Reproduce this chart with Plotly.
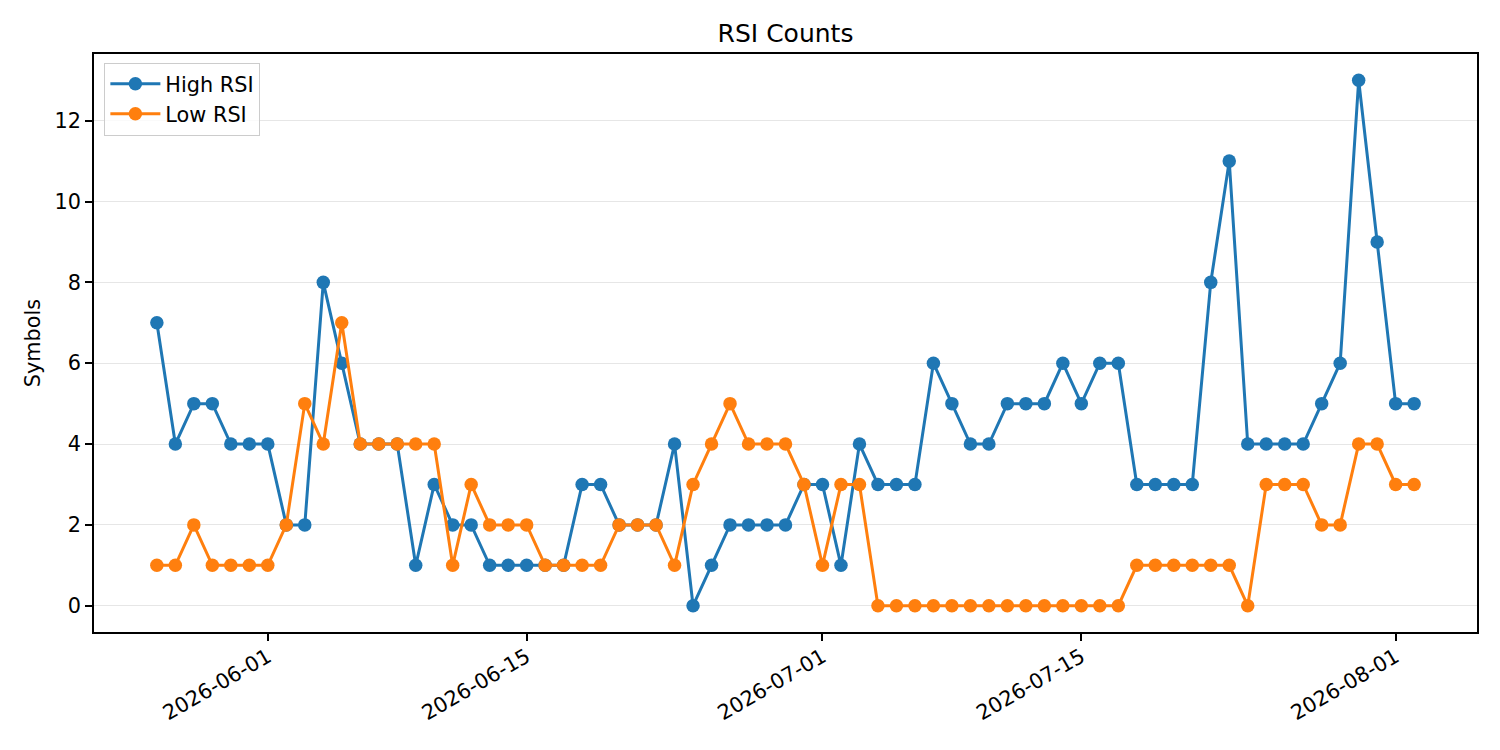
import pandas as pd
import plotly.graph_objects as go

# daily counts, 2026-05-26 .. 2026-08-02
dates = pd.date_range("2026-05-26", "2026-08-02", freq="D")

high_rsi = [7, 4, 5, 5, 4, 4, 4, 2, 2, 8, 6, 4, 4, 4, 1, 3, 2, 2, 1, 1,
            1, 1, 1, 3, 3, 2, 2, 2, 4, 0, 1, 2, 2, 2, 2, 3, 3, 1, 4, 3,
            3, 3, 6, 5, 4, 4, 5, 5, 5, 6, 5, 6, 6, 3, 3, 3, 3, 8, 11, 4,
            4, 4, 4, 5, 6, 13, 9, 5, 5]

low_rsi = [1, 1, 2, 1, 1, 1, 1, 2, 5, 4, 7, 4, 4, 4, 4, 4, 1, 3, 2, 2,
           2, 1, 1, 1, 1, 2, 2, 2, 1, 3, 4, 5, 4, 4, 4, 3, 1, 3, 3, 0,
           0, 0, 0, 0, 0, 0, 0, 0, 0, 0, 0, 0, 0, 1, 1, 1, 1, 1, 1, 0,
           3, 3, 3, 2, 2, 4, 4, 3, 3]

x_ticks = ["2026-06-01", "2026-06-15", "2026-07-01", "2026-07-15", "2026-08-01"]
y_ticks = [0, 2, 4, 6, 8, 10, 12]

FONT = "DejaVu Sans, sans-serif"

fig = go.Figure()
fig.add_trace(go.Scatter(x=dates, y=high_rsi, mode="lines+markers", name="High RSI",
                         line=dict(color="#1f77b4", width=3),
                         marker=dict(color="#1f77b4", size=13.5)))
fig.add_trace(go.Scatter(x=dates, y=low_rsi, mode="lines+markers", name="Low RSI",
                         line=dict(color="#ff7f0e", width=3),
                         marker=dict(color="#ff7f0e", size=13.5)))

# matplotlib-style 5% padding
pad = (dates[-1] - dates[0]) * 0.05
ymax = max(max(high_rsi), max(low_rsi))
ypad = ymax * 0.05

fig.update_layout(
    width=1500, height=750,
    margin=dict(l=86, r=31, t=46, b=126),
    paper_bgcolor="white", plot_bgcolor="white",
    font=dict(family=FONT, size=20.8, color="black"),
    title=dict(text="RSI Counts", xref="paper", x=0.5, xanchor="center",
               y=0.967, yanchor="middle", font=dict(size=25)),
    showlegend=True,
    legend=dict(x=0.0075, y=0.985, xanchor="left", yanchor="top",
                bgcolor="rgba(255,255,255,0.8)", bordercolor="#cccccc", borderwidth=1,
                font=dict(size=20.8), itemwidth=50, tracegroupgap=0),
)

fig.update_xaxes(
    range=[dates[0] - pad, dates[-1] + pad],
    tickvals=pd.to_datetime(x_ticks), ticktext=x_ticks, tickangle=-30,
    ticklabelstandoff=-4,
    showgrid=False, zeroline=False,
    showline=True, linecolor="black", linewidth=1.6, mirror=True,
    ticks="outside", ticklen=7, tickcolor="black", tickwidth=1.6,
)
fig.update_yaxes(
    range=[-ypad, ymax + ypad],
    tickvals=y_ticks,
    title=dict(text="Symbols", font=dict(size=20.8), standoff=8),
    showgrid=True, gridcolor="#e6e6e6", gridwidth=1.2, zeroline=False,
    showline=True, linecolor="black", linewidth=1.6, mirror=True,
    ticks="outside", ticklen=7, tickcolor="black", tickwidth=1.6,
)

fig.write_html("out.html")
